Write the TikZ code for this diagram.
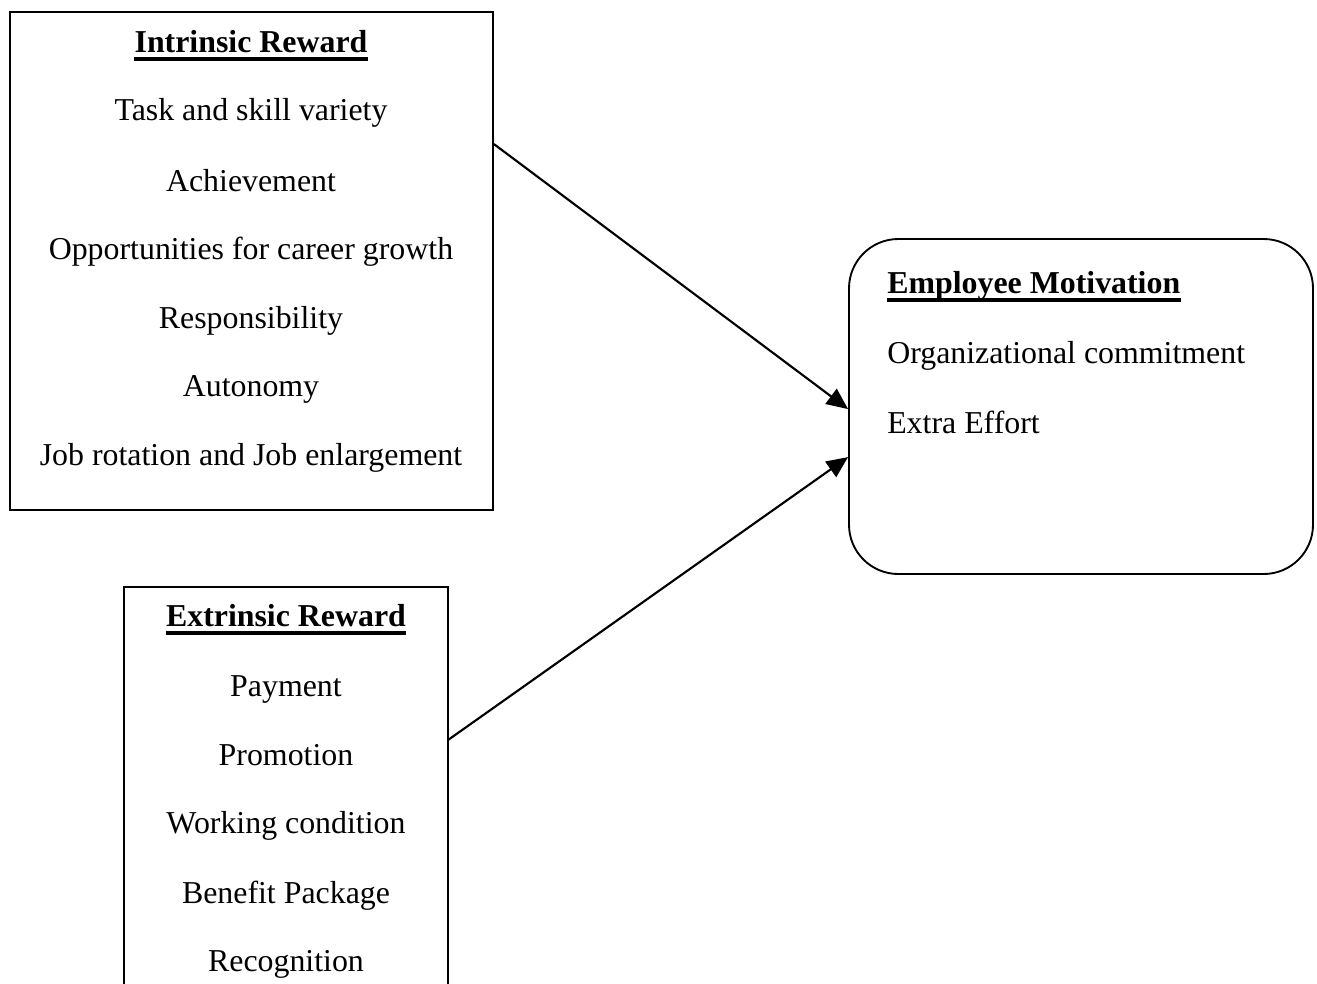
\documentclass[tikz,border=0pt]{standalone}
\usepackage{fontspec}
\setmainfont{Liberation Serif}
\usetikzlibrary{calc,arrows.meta}
\begin{document}
\begin{tikzpicture}[x=0.75pt,y=-0.75pt,
  every node/.style={font=\fontsize{23.9}{28}\selectfont, inner sep=0pt},
  box/.style={draw, line width=1.4pt, inner sep=0pt},
  item/.style={anchor=base},
  litem/.style={anchor=base west},
  heading/.style={font=\fontsize{23.9}{28}\selectfont\bfseries},
  rulebar/.style={line width=2.5pt},
  link/.style={line width=1.6pt, -{Triangle[length=16pt,width=14pt]}}]
\useasboundingbox (0,0) rectangle (1317,983);

% Intrinsic reward box
\node[box, minimum width=362.25pt, minimum height=373.5pt] (intr) at (251.5,261) {};
\node[item, heading] (ititle) at (251,52) {Intrinsic Reward};
\node[item] (i1) at (251,120) {Task and skill variety};
\node[item] (i2) at (251,191) {Achievement};
\node[item] (i3) at (251,259) {Opportunities for career growth};
\node[item] (i4) at (251,328) {Responsibility};
\node[item] (i5) at (251,396) {Autonomy};
\node[item] (i6) at (251,465) {Job rotation and Job enlargement};

% Extrinsic reward box (runs past the lower edge)
\coordinate (ebl) at (124,990);
\coordinate (etl) at (124,587);
\coordinate (etr) at (448,587);
\coordinate (ebr) at (448,990);
\draw[line width=1.4pt] (ebl) -- (etl) -- (etr) -- (ebr);
\node[item, heading] (etitle) at (286,626) {Extrinsic Reward};
\node[item] (e1) at (286,696) {Payment};
\node[item] (e2) at (286,765) {Promotion};
\node[item] (e3) at (286,833) {Working condition};
\node[item] (e4) at (286,903) {Benefit Package};
\node[item] (e5) at (286,971) {Recognition};
\coordinate (eout) at (448,740);

% Employee motivation box
\node[box, rounded corners=37pt, minimum width=348pt, minimum height=251.25pt] (emp) at (1081,406.5) {};
\node[litem, heading] (mtitle) at (887,293) {Employee Motivation};
\node[litem] (m1) at (887,363) {Organizational commitment};
\node[litem] (m2) at (887,433) {Extra Effort};

% Heading underlines
\foreach \t in {ititle,etitle,mtitle}
  \draw[rulebar] ($(\t.base west)+(0,7)$) -- ($(\t.base east)+(0,7)$);

% Connectors
\draw[link] ($(intr.north east)+(0,133)$) -- ($(emp.north west)+(0,171)$);
\draw[link] (eout) -- ($(emp.north west)+(0,219)$);
\end{tikzpicture}
\end{document}
